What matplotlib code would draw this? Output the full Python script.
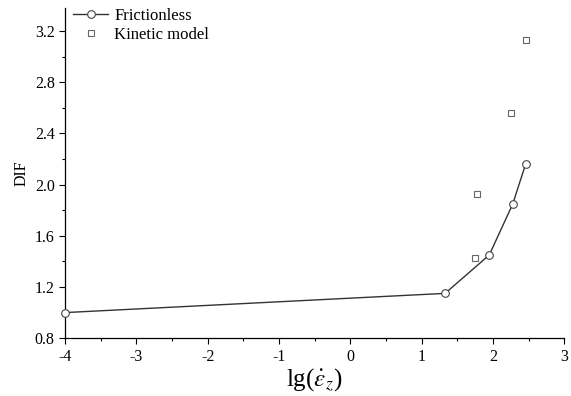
import matplotlib
matplotlib.use("Agg")
import matplotlib.pyplot as plt
from matplotlib.ticker import MultipleLocator

plt.rcParams["font.family"] = ["Liberation Serif", "DejaVu Serif"]
plt.rcParams["mathtext.fontset"] = "stix"

# Data
fric_x = [-4.0, 1.33, 1.95, 2.28, 2.46]
fric_y = [1.00, 1.15, 1.45, 1.85, 2.16]
kin_x = [1.75, 1.78, 2.26, 2.47]
kin_y = [1.43, 1.93, 2.56, 3.13]

x_ticks = [-4, -3, -2, -1, 0, 1, 2, 3]
y_ticks = [0.8, 1.2, 1.6, 2.0, 2.4, 2.8, 3.2]

fig = plt.figure(figsize=(5.71, 3.96), dpi=100)
ax = fig.add_axes([0.114, 0.146, 0.874, 0.834])

ax.plot(fric_x, fric_y, color="#333333", lw=1.0, marker="o", markersize=5.5,
        markerfacecolor="white", markeredgecolor="#444444", markeredgewidth=0.8,
        label="Frictionless", clip_on=False, zorder=3)
ax.plot(kin_x, kin_y, ls="none", marker="s", markersize=5,
        markerfacecolor="white", markeredgecolor="#666666", markeredgewidth=0.8,
        label="Kinetic model", zorder=3)

ax.set_xlim(-4, 3)
ax.set_ylim(0.8, 3.38)
ax.set_xticks(x_ticks)
ax.set_xticklabels([str(v) for v in x_ticks])
ax.set_yticks(y_ticks)
ax.set_yticklabels([f"{v:.1f}" for v in y_ticks])
ax.xaxis.set_minor_locator(MultipleLocator(0.5))
ax.yaxis.set_minor_locator(MultipleLocator(0.2))

for s in ["top", "right"]:
    ax.spines[s].set_visible(False)
for s in ["left", "bottom"]:
    ax.spines[s].set_linewidth(0.9)

ax.tick_params(which="major", direction="out", length=4, width=0.8, labelsize=11.5)
ax.tick_params(which="minor", direction="out", length=2.5, width=0.8)

ax.set_ylabel("DIF", fontsize=11.5, labelpad=4)
ax.set_xlabel(r"lg($\dot{\varepsilon}_z$)", fontsize=18, labelpad=1)

ax.legend(loc="upper left", frameon=False, fontsize=12, handlelength=2.1,
          borderaxespad=0.1, handletextpad=0.35, labelspacing=0.2,
          bbox_to_anchor=(0.0, 1.025))

fig.savefig("out.png", dpi=100)
